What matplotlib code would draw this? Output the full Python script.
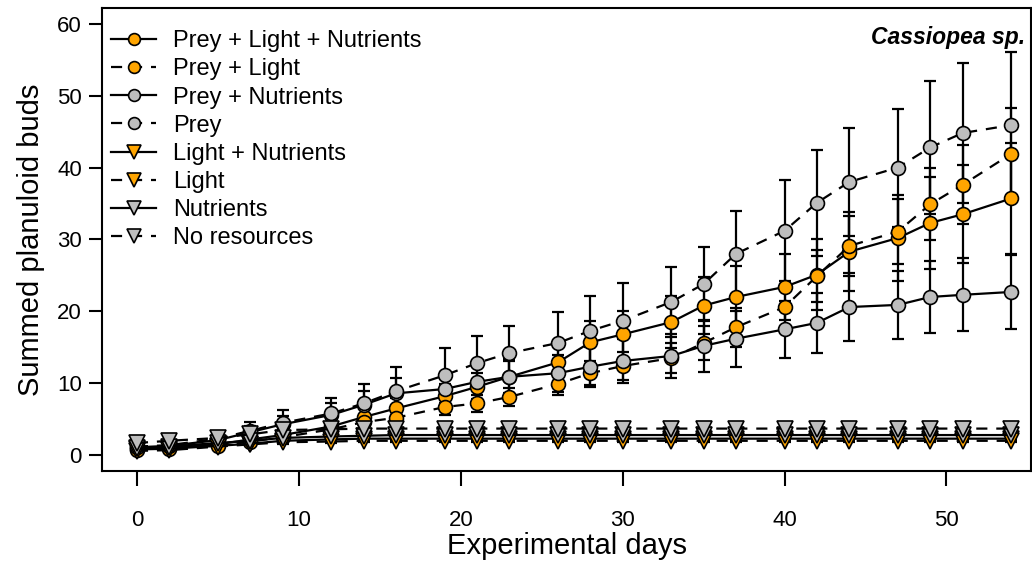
import matplotlib.pyplot as plt

# Cassiopea budding experiment - summed planuloid buds over time
days = [0, 2, 5, 7, 9, 12, 14, 16, 19, 21, 23, 26, 28, 30, 33, 35, 37, 40, 42, 44, 47, 49, 51, 54]

prey_light_nut = [0.9, 1.0, 1.5, 2.2, 2.8, 4.0, 5.3, 6.5, 8.2, 9.5, 10.9, 12.9, 15.7, 16.8,
                  18.5, 20.8, 22.0, 23.4, 25.1, 28.3, 30.2, 32.3, 33.5, 35.7]
prey_light_nut_se = [0.3, 0.3, 0.4, 0.6, 0.8, 1.0, 1.2, 1.4, 1.7, 1.9, 2.2, 2.6, 3.0, 3.3,
                     3.6, 4.0, 4.3, 4.6, 4.9, 5.5, 6.0, 6.4, 6.8, 7.7]

prey_light = [0.7, 0.8, 1.3, 1.9, 2.5, 3.6, 4.6, 5.2, 6.7, 7.2, 8.1, 9.9, 11.4, 12.4,
              13.5, 15.6, 17.8, 20.6, 24.9, 29.1, 31.1, 34.9, 37.6, 41.9]
prey_light_se = [0.2, 0.2, 0.3, 0.4, 0.5, 0.7, 0.8, 0.9, 1.1, 1.2, 1.3, 1.5, 1.7, 1.9,
                 2.1, 2.4, 2.7, 3.1, 3.6, 4.2, 4.5, 5.0, 5.5, 6.4]

prey_nut = [1.1, 1.3, 2.1, 3.2, 4.3, 5.6, 7.0, 8.6, 9.2, 10.2, 10.9, 11.4, 12.3, 13.1,
            13.8, 15.2, 16.2, 17.5, 18.4, 20.6, 20.9, 22.0, 22.3, 22.7]
prey_nut_se = [0.3, 0.4, 0.6, 0.9, 1.2, 1.6, 1.9, 2.2, 2.3, 2.4, 2.5, 2.6, 2.8, 3.0,
               3.1, 3.6, 3.9, 4.0, 4.2, 4.7, 4.7, 5.0, 5.1, 5.2]

prey = [1.2, 1.4, 2.3, 3.4, 4.5, 5.8, 7.2, 8.9, 11.1, 12.8, 14.2, 15.6, 17.3, 18.7,
        21.3, 23.8, 28.0, 31.2, 35.1, 38.0, 40.0, 42.8, 44.8, 45.9]
prey_se = [0.4, 0.5, 0.8, 1.2, 1.8, 2.2, 2.7, 3.3, 3.8, 3.8, 3.8, 4.3, 4.8, 5.2,
           4.9, 5.1, 6.0, 7.0, 7.4, 7.5, 8.2, 9.2, 9.8, 10.2]

light_nut = [0.8, 0.9, 1.3, 1.6, 2.0, 2.2, 2.3, 2.3, 2.3, 2.3, 2.3, 2.3, 2.3, 2.3,
             2.3, 2.3, 2.3, 2.3, 2.3, 2.3, 2.3, 2.3, 2.3, 2.3]
light = [0.6, 0.7, 1.2, 1.5, 1.8, 1.9, 2.0, 2.0, 2.0, 2.0, 2.0, 2.0, 2.0, 2.0,
         2.0, 2.0, 2.0, 2.0, 2.0, 2.0, 2.0, 2.0, 2.0, 2.0]
nutrients = [1.0, 1.2, 1.7, 2.0, 2.4, 2.6, 2.7, 2.8, 2.8, 2.8, 2.8, 2.8, 2.8, 2.8,
             2.8, 2.8, 2.8, 2.8, 2.8, 2.8, 2.8, 2.8, 2.8, 2.8]
no_res = [1.7, 2.0, 2.4, 2.9, 3.5, 3.6, 3.7, 3.7, 3.7, 3.7, 3.7, 3.7, 3.7, 3.7,
          3.7, 3.7, 3.7, 3.7, 3.7, 3.7, 3.7, 3.7, 3.7, 3.7]
flat_se = [0.2] * len(days)

labels = ["Prey + Light + Nutrients", "Prey + Light", "Prey + Nutrients", "Prey",
          "Light + Nutrients", "Light", "Nutrients", "No resources"]

orange = "#FFA500"
grey = "#BEBEBE"

plt.rcParams['font.family'] = ['Liberation Sans', 'DejaVu Sans']

series = [
    (prey_light_nut, prey_light_nut_se, orange, 'o', '-'),
    (prey_light, prey_light_se, orange, 'o', '--'),
    (prey_nut, prey_nut_se, grey, 'o', '-'),
    (prey, prey_se, grey, 'o', '--'),
    (light_nut, flat_se, orange, 'v', '-'),
    (light, flat_se, orange, 'v', '--'),
    (nutrients, flat_se, grey, 'v', '-'),
    (no_res, flat_se, grey, 'v', '--'),
]

fig = plt.figure(figsize=(10.32, 5.63), dpi=100)
ax = fig.add_axes([0.0988, 0.163, 0.9007, 0.823])

# error bars first, then the lines and points on top
for vals, se, col, mk, ls in series:
    ax.errorbar(days, vals, yerr=se, fmt='none', ecolor='black', elinewidth=1.6,
                capsize=4.3, capthick=1.6, zorder=2)

for i, (vals, se, col, mk, ls) in enumerate(series):
    ms = 10 if mk == 'o' else 12
    line, = ax.plot(days, vals, color='black', linestyle=ls, linewidth=1.6,
                    marker=mk, markersize=ms, markerfacecolor=col,
                    markeredgecolor='black', markeredgewidth=1.2,
                    label=labels[i], zorder=3 + i)
    if ls == '--':
        line.set_dashes((5, 4))

ax.set_xlim(-2.16, 55.25)
ax.set_ylim(-2.23, 62.2)
ax.set_xticks([0, 10, 20, 30, 40, 50])
ax.set_yticks([0, 10, 20, 30, 40, 50, 60])
ax.tick_params(axis='x', direction='out', length=10.8, width=1.5, pad=17, labelsize=16)
ax.tick_params(axis='y', direction='out', length=9.4, width=1.5, pad=5, labelsize=16)
for sp in ax.spines.values():
    sp.set_linewidth(1.5)

ax.set_xlabel("Experimental days", fontsize=21, labelpad=1)
ax.set_ylabel("Summed planuloid buds", fontsize=21, labelpad=9)

ax.text(0.993, 0.935, "Cassiopea sp.", transform=ax.transAxes, ha='right', va='center',
        fontsize=16.5, fontweight='bold', fontstyle='italic')

ax.legend(loc='upper left', bbox_to_anchor=(0.0, 0.972), frameon=False, fontsize=17,
          handlelength=1.9, handletextpad=0.7, labelspacing=0.26, borderaxespad=0.2,
          borderpad=0.2, markerscale=0.85)

fig.savefig("out.png", dpi=100)
